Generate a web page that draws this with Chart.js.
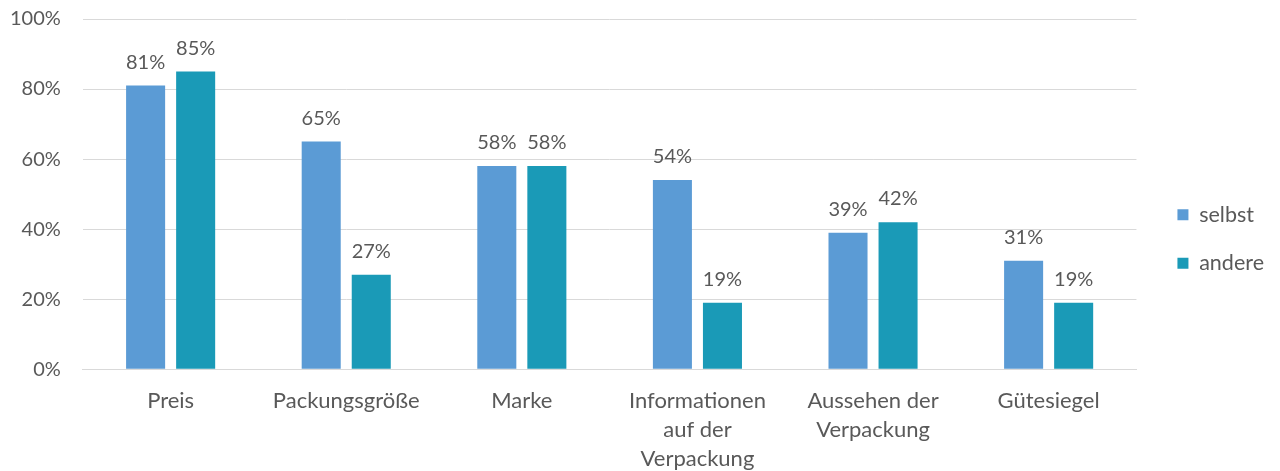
<!DOCTYPE html>
<html>
<head>
<meta charset="utf-8">
<script src="https://cdn.jsdelivr.net/npm/chart.js@4/dist/chart.umd.min.js"></script>
<style>
  html, body { margin: 0; padding: 0; background: #fff; }
  #wrap { width: 1280px; height: 471px; }
</style>
</head>
<body>
<div id="wrap"><canvas id="chart"></canvas></div>
<script>
// Daten
const categories = [
    'Preis',
    'Packungsgröße',
    'Marke',
    ['Informationen', 'auf der', 'Verpackung'],
    ['Aussehen der', 'Verpackung'],
    'Gütesiegel'
];
const seriesNames = ['selbst', 'andere'];
const selbstValues = [81, 65, 58, 54, 39, 31];
const andereValues = [85, 27, 58, 19, 42, 19];
const yTicks = [0, 20, 40, 60, 80, 100];

const textColor = '#595959';
const fontFamily = 'Lato, "Open Sans", sans-serif';

// Werte über den Balken
const valueLabels = {
    id: 'valueLabels',
    afterDatasetsDraw(chart) {
        const ctx = chart.ctx;
        ctx.save();
        ctx.font = '20px ' + fontFamily;
        ctx.fillStyle = textColor;
        ctx.textAlign = 'center';
        ctx.textBaseline = 'alphabetic';
        chart.data.datasets.forEach((ds, i) => {
            chart.getDatasetMeta(i).data.forEach((bar, j) => {
                ctx.fillText(ds.data[j] + '%', bar.x, bar.y - 17);
            });
        });
        ctx.restore();
    }
};

// Legende: mehr Abstand zur Zeichenfläche, Einträge etwas verschoben
const legendShift = {
    id: 'legendShift',
    afterInit(chart) {
        const lg = chart.legend;
        if (!lg) return;
        const fit = lg.fit.bind(lg);
        lg.fit = function () {
            fit();
            this.width += 16;
        };
    },
    afterLayout(chart) {
        const lg = chart.legend;
        if (!lg) return;
        lg.left += 14;
        lg.top -= 12;
        lg.bottom -= 12;
    }
};

new Chart(document.getElementById('chart'), {
    type: 'bar',
    data: {
        labels: categories,
        datasets: [
            { label: seriesNames[0], data: selbstValues, backgroundColor: '#5B9BD5' },
            { label: seriesNames[1], data: andereValues, backgroundColor: '#1A9AB7' }
        ]
    },
    options: {
        responsive: true,
        maintainAspectRatio: false,
        animation: false,
        layout: { padding: { top: 19, right: 4, left: 8, bottom: -12 } },
        datasets: {
            bar: { categoryPercentage: 0.57, barPercentage: 0.78 }
        },
        plugins: {
            legend: {
                position: 'right',
                labels: {
                    boxWidth: 11,
                    boxHeight: 11,
                    padding: 27,
                    color: textColor,
                    font: { size: 21.5, family: fontFamily }
                }
            },
            tooltip: { enabled: false }
        },
        scales: {
            x: {
                grid: { display: false },
                border: { color: '#d9d9d9' },
                ticks: {
                    color: textColor,
                    font: { size: 22, family: fontFamily, lineHeight: 1.33 },
                    padding: 9,
                    maxRotation: 0,
                    autoSkip: false
                }
            },
            y: {
                min: 0,
                max: 100,
                afterBuildTicks: axis => { axis.ticks = yTicks.map(v => ({ value: v })); },
                grid: { color: '#d9d9d9', drawTicks: true, tickLength: 20, tickColor: 'rgba(0,0,0,0)' },
                border: { display: false },
                ticks: {
                    color: textColor,
                    font: { size: 20, family: fontFamily },
                    padding: 2,
                    callback: v => v + '%'
                }
            }
        }
    },
    plugins: [valueLabels, legendShift]
});
</script>
</body>
</html>
